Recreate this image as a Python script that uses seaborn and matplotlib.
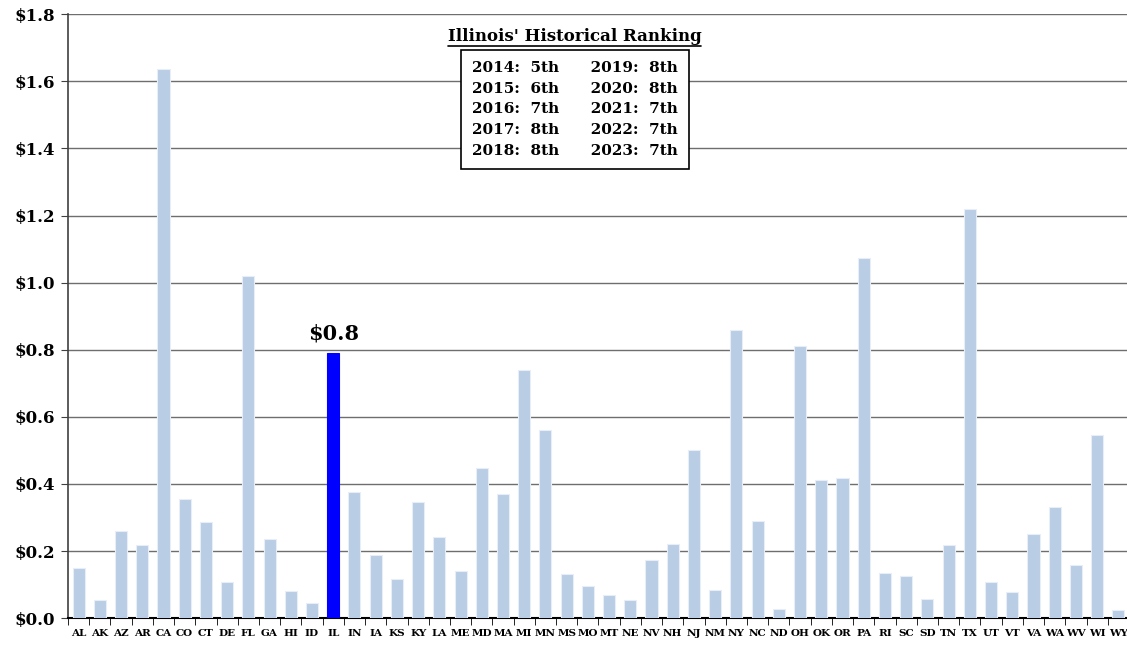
import matplotlib
matplotlib.use('Agg')
import matplotlib.pyplot as plt
import matplotlib.ticker as mticker
import pandas as pd
import seaborn as sns

# Datos
estados = ['AL', 'AK', 'AZ', 'AR', 'CA', 'CO', 'CT', 'DE', 'FL', 'GA', 'HI', 'ID', 'IL', 'IN', 'IA', 'KS', 'KY',
           'LA', 'ME', 'MD', 'MA', 'MI', 'MN', 'MS', 'MO', 'MT', 'NE', 'NV', 'NH', 'NJ', 'NM', 'NY', 'NC', 'ND',
           'OH', 'OK', 'OR', 'PA', 'RI', 'SC', 'SD', 'TN', 'TX', 'UT', 'VT', 'VA', 'WA', 'WV', 'WI', 'WY']
valores = [0.149, 0.054, 0.260, 0.217, 1.636, 0.355, 0.286, 0.107, 1.019, 0.235, 0.080, 0.045, 0.790, 0.377,
           0.187, 0.116, 0.346, 0.242, 0.140, 0.447, 0.370, 0.739, 0.562, 0.131, 0.095, 0.070, 0.053, 0.173,
           0.220, 0.500, 0.085, 0.858, 0.290, 0.027, 0.812, 0.412, 0.418, 1.075, 0.136, 0.125, 0.056, 0.217,
           1.220, 0.108, 0.078, 0.250, 0.332, 0.158, 0.545, 0.023]
destacado = 'IL'
etiqueta_destacado = r'\$0.8'

titulo_ranking = "Illinois' Historical Ranking"
ranking_izq = ['2014:  5th', '2015:  6th', '2016:  7th', '2017:  8th', '2018:  8th']
ranking_der = ['2019:  8th', '2020:  8th', '2021:  7th', '2022:  7th', '2023:  7th']

df = pd.DataFrame({'estado': estados, 'valor': valores})
colores = {e: ('#0000ff' if e == destacado else '#b9cde5') for e in estados}

sns.set_style('white')
plt.rcParams['font.family'] = ['DejaVu Serif']
plt.rcParams['font.weight'] = 'bold'
plt.rcParams['text.color'] = 'black'
plt.rcParams['xtick.color'] = 'black'
plt.rcParams['ytick.color'] = 'black'

fig = plt.figure(figsize=(11.27, 6.5), dpi=100)
ax = fig.add_axes([0.0603, 0.049, 0.9415, 0.929])

sns.barplot(data=df, x='estado', y='valor', hue='estado', palette=colores, legend=False, saturation=1,
            width=0.57, linewidth=0.8, edgecolor='#e8eef7', ax=ax, zorder=3)
ax.patches[estados.index(destacado)].set_edgecolor('#0000ff')

ax.set_ylim(0, 1.8)
ax.set_xlim(-0.5, len(estados) - 0.5)
ax.yaxis.set_major_locator(mticker.MultipleLocator(0.2))
ax.yaxis.set_major_formatter(mticker.FuncFormatter(lambda v, p: r'\$%.1f' % v))
ax.grid(axis='y', color='#6e6e6e', linewidth=1.0, zorder=0)
ax.set_axisbelow(True)
ax.set_xlabel('')
ax.set_ylabel('')

for s in ['top', 'right']:
    ax.spines[s].set_visible(False)
ax.spines['left'].set_color('#404040')
ax.spines['bottom'].set_color('black')
ax.spines['left'].set_linewidth(1.2)
ax.spines['bottom'].set_linewidth(1.5)

ax.tick_params(axis='y', which='major', labelsize=12, length=5, direction='out', left=True, pad=4,
               color='#404040')
ax.tick_params(axis='x', which='major', labelsize=7.5, length=0, pad=8)
ax.xaxis.set_minor_locator(mticker.FixedLocator([i - 0.5 for i in range(len(estados) + 1)]))
ax.tick_params(axis='x', which='minor', length=5, direction='out', bottom=True, color='black')
for t in ax.get_yticklabels() + ax.get_xticklabels():
    t.set_fontweight('bold')

# Etiqueta de Illinois
i_dest = estados.index(destacado)
ax.text(i_dest, valores[i_dest] + 0.03, etiqueta_destacado, ha='center', va='bottom',
        fontsize=15, fontweight='bold')

# Recuadro con ranking historico
filas = [f'{a}      {b}' for a, b in zip(ranking_izq, ranking_der)]
ax.text(0.4775, 0.923, '\n'.join(filas), transform=ax.transAxes, ha='center', va='top',
        fontsize=11, fontweight='bold', linespacing=1.62, zorder=5,
        bbox=dict(boxstyle='square,pad=0.72', facecolor='white', edgecolor='black', linewidth=1.2))
tt = ax.text(0.4775, 0.963, titulo_ranking, transform=ax.transAxes, ha='center', va='center',
             fontsize=12, fontweight='bold', zorder=5)
fig.canvas.draw()
bb = tt.get_window_extent().transformed(fig.transFigure.inverted())
fig.add_artist(plt.Line2D([bb.x0, bb.x1], [bb.y0 - 0.002, bb.y0 - 0.002], color='black', linewidth=1.2,
                          transform=fig.transFigure))

fig.savefig('out.png', dpi=100)
